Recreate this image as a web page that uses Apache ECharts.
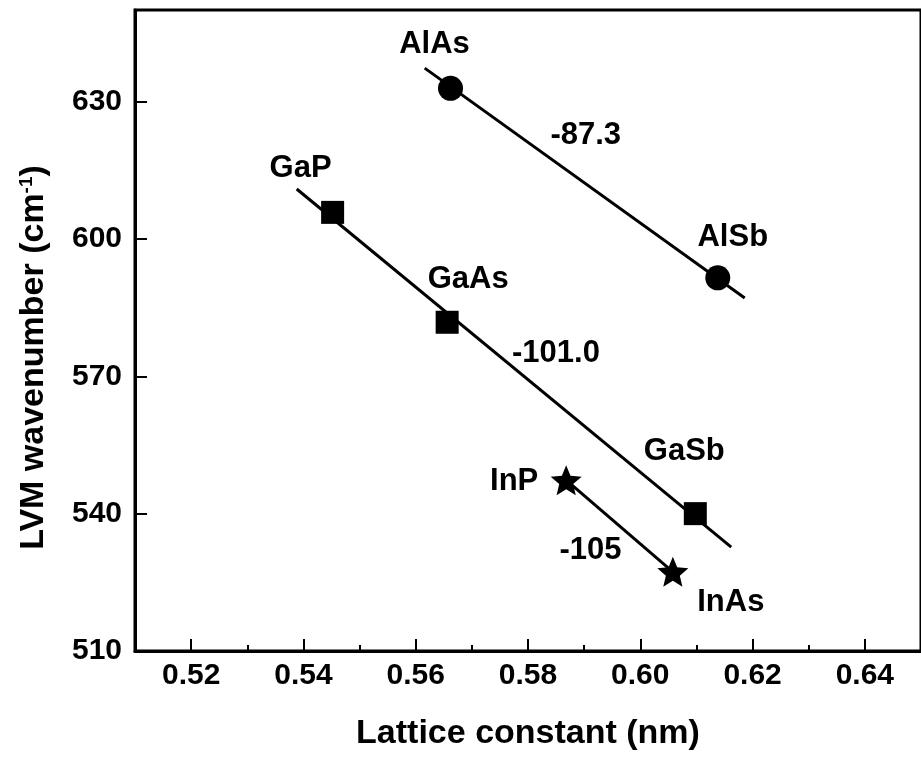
<!DOCTYPE html>
<html><head><meta charset="utf-8">
<script src="https://cdn.jsdelivr.net/npm/echarts@6/dist/echarts.min.js"></script>
<style>html,body{margin:0;padding:0;background:#fff}#c{width:921px;height:757px}</style>
</head><body><div id="c"></div>
<script>
// ---- data ----
const xMajorTicks = [0.52, 0.54, 0.56, 0.58, 0.60, 0.62, 0.64];
const xMinorTicks = [0.53, 0.55, 0.57, 0.59, 0.61, 0.63];
const yTicks = [510, 540, 570, 600, 630];

const alNames = ['AlAs', 'AlSb'];
const alX = [0.5662, 0.6138];
const alY = [632.9, 591.5];

const gaNames = ['GaP', 'GaAs', 'GaSb'];
const gaX = [0.5452, 0.5656, 0.6098];
const gaY = [605.8, 581.8, 540.0];

const inNames = ['InP', 'InAs'];
const inX = [0.5868, 0.6058];
const inY = [547.3, 527.3];

const alFitX = [0.5616, 0.6186];
const alFitY = [637.3, 587.1];
const gaFitX = [0.5388, 0.6162];
const gaFitY = [610.9, 532.7];

const slopeLabels = ['-87.3', '-101.0', '-105'];

// ---- styling (not data) ----
const FONT = "'Liberation Sans', Arial, sans-serif";
const labelOffsets = {
  AlAs: [-16, -44], AlSb: [15, -40],
  GaP: [-32, -44], GaAs: [21, -43], GaSb: [-11, -62],
  InP: [-52, 1], InAs: [58, 31]
};
const slopeOffsets = [[1, -48], [42, -15], [-29, 24]];
const STAR = 'path://M0,-10 L2.645,-3.641 L9.511,-3.09 L4.28,1.391 L5.878,8.09 L0,4.5 L-5.878,8.09 L-4.28,1.391 L-9.511,-3.09 L-2.645,-3.641 Z';

function pts(xs, ys, names) {
  return xs.map((x, i) => {
    const item = { value: [x, ys[i]] };
    if (names) {
      item.name = names[i];
      item.label = { show: true, formatter: names[i], position: 'inside', offset: labelOffsets[names[i]],
        color: '#000', fontSize: 31, fontWeight: 'bold', fontFamily: FONT, opacity: 1 };
    }
    return item;
  });
}
function mid(xs, ys) { return [(xs[0] + xs[xs.length - 1]) / 2, (ys[0] + ys[ys.length - 1]) / 2]; }
function lineSeries(xs, ys, k) {
  return {
    type: 'line', data: pts(xs, ys), showSymbol: false, symbol: 'none', z: 1,
    lineStyle: { color: '#000', width: 3 }, silent: true,
    markPoint: {
      symbol: 'circle', symbolSize: 0, silent: true,
      data: [{ coord: mid(xs, ys), value: slopeLabels[k] }],
      label: { show: true, formatter: slopeLabels[k], position: 'inside', offset: slopeOffsets[k],
        color: '#000', fontSize: 31, fontWeight: 'bold', fontFamily: FONT }
    }
  };
}
function scatterSeries(xs, ys, names, symbol, size) {
  return { type: 'scatter', data: pts(xs, ys, names), symbol: symbol, symbolSize: size, z: 3,
    itemStyle: { color: '#000', opacity: 1 }, silent: true };
}

const chart = echarts.init(document.getElementById('c'), null, { renderer: 'canvas' });
chart.setOption({
  animation: false,
  backgroundColor: '#fff',
  grid: { left: 135, right: -7.4, top: 10, bottom: 106, show: true, borderColor: '#000', borderWidth: 3, backgroundColor: 'transparent' },
  xAxis: [{
    type: 'value', min: 0.51, max: 0.65, position: 'bottom',
    name: 'Lattice constant (nm)', nameLocation: 'middle', nameGap: 66,
    nameTextStyle: { fontSize: 34, fontWeight: 'bold', fontFamily: FONT, color: '#000' },
    axisLine: { show: true, lineStyle: { color: '#000', width: 3 } },
    axisTick: { show: true, inside: true, length: 12, customValues: xMajorTicks, lineStyle: { color: '#000', width: 2 } },
    axisLabel: { show: true, margin: 10, customValues: xMajorTicks, formatter: v => v.toFixed(2),
      fontSize: 30, fontWeight: 'bold', fontFamily: FONT, color: '#000' },
    splitLine: { show: false }
  }, {
    type: 'value', min: 0.51, max: 0.65, position: 'bottom', gridIndex: 0,
    axisLine: { show: false },
    axisTick: { show: true, inside: true, length: 6, customValues: xMinorTicks, lineStyle: { color: '#000', width: 2 } },
    axisLabel: { show: false },
    splitLine: { show: false }
  }],
  yAxis: {
    type: 'value', min: 510, max: 650,
    name: 'LVM wavenumber (cm{sup|-1})', nameLocation: 'middle', nameGap: 84, nameRotate: 90,
    nameTextStyle: { fontSize: 34, fontWeight: 'bold', fontFamily: FONT, color: '#000', padding: [0, 54, 0, 0],
      rich: { sup: { fontSize: 19, fontWeight: 'bold', fontFamily: FONT, color: '#000', verticalAlign: 'top' } } },
    axisLine: { show: true, lineStyle: { color: '#000', width: 3 } },
    axisTick: { show: true, inside: true, length: 12, customValues: yTicks, lineStyle: { color: '#000', width: 2 } },
    axisLabel: { show: true, margin: 13, customValues: yTicks,
      fontSize: 30, fontWeight: 'bold', fontFamily: FONT, color: '#000' },
    splitLine: { show: false }
  },
  series: [
    lineSeries(alFitX, alFitY, 0),
    lineSeries(gaFitX, gaFitY, 1),
    lineSeries(inX, inY, 2),
    scatterSeries(alX, alY, alNames, 'circle', 25),
    scatterSeries(gaX, gaY, gaNames, 'rect', 23),
    scatterSeries(inX, inY, inNames, STAR, [31, 30])
  ]
});
</script>
</body></html>
